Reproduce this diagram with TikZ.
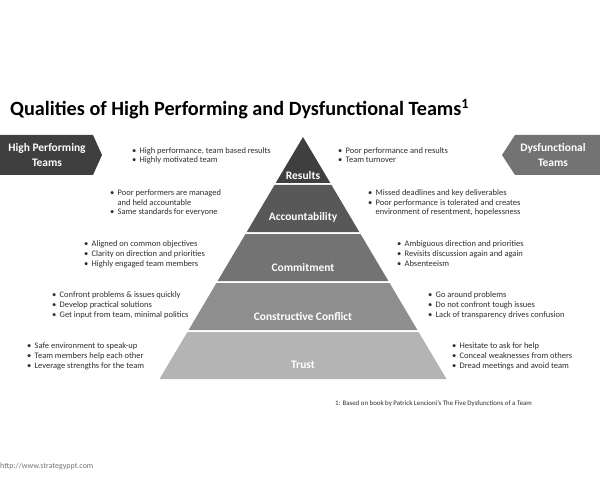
\documentclass[tikz,border=0pt]{standalone}
\usepackage{fontspec}
\setmainfont{Carlito}
\usepackage{xcolor}
\usetikzlibrary{positioning}

\definecolor{lvlA}{HTML}{3F3F3F}
\definecolor{lvlB}{HTML}{585858}
\definecolor{lvlC}{HTML}{737373}
\definecolor{lvlD}{HTML}{8E8E8E}
\definecolor{lvlE}{HTML}{B4B4B4}
\definecolor{txt}{HTML}{2E2E2E}

\newcommand{\bul}{\makebox[7.5pt][l]{•}}
\newcommand{\cont}{\hspace*{7.5pt}}

\begin{document}
\begin{tikzpicture}[x=1bp, y=-1bp,
  lvl/.style={text=white, font=\fontsize{11.5}{13}\selectfont\bfseries, anchor=base, inner sep=0pt},
  tag/.style={text=white, font=\fontsize{11.5}{15}\selectfont\bfseries, align=center, inner sep=0pt},
  pts/.style={text=txt, font=\fontsize{8.5}{10}\selectfont, align=left, anchor=base west, inner sep=0pt}]
  \useasboundingbox (0,0) rectangle (600,480);
  % title
  \node[anchor=base west, inner sep=0pt, font=\fontsize{20.3}{24}\selectfont\bfseries] (title) at (10,116)
    {Qualities of High Performing and Dysfunctional Teams\textsuperscript{1}};
  % side tags
  \fill[lvlA] (0,135) -- (93,135) -- (102,155) -- (93,175) -- (0,175) -- cycle;
  \node[tag] (hp) at (47,155) {High Performing\\Teams};
  \fill[lvlC] (600,135) -- (515,135) -- (502,155) -- (515,175) -- (600,175) -- cycle;
  \node[tag] (dy) at (553,155) {Dysfunctional\\Teams};
  % pyramid
  \fill[lvlA] (303,137) -- (330.3,183) -- (275.7,183) -- cycle;
  \fill[lvlB] (274.5,185) -- (331.5,185) -- (359.3,232) -- (246.7,232) -- cycle;
  \fill[lvlC] (245.5,234) -- (360.5,234) -- (388.4,281) -- (217.6,281) -- cycle;
  \fill[lvlD] (216.4,283) -- (389.6,283) -- (417.4,330) -- (188.6,330) -- cycle;
  \fill[lvlE] (187.4,332) -- (418.6,332) -- (446.5,379) -- (159.5,379) -- cycle;
  \node[lvl] (res) at (303,180) {Results};
  \node[lvl] (acc) at (303,221) {Accountability};
  \node[lvl] (com) at (303,271) {Commitment};
  \node[lvl] (con) at (303,320) {Constructive Conflict};
  \node[lvl] (tru) at (303,368) {Trust};
  % high performing side (anchored at last line)
  \node[pts] (hpres) at (132,163) {\bul High performance, team based results\\\bul Highly motivated team};
  \node[pts] (hpacc) at (110,215) {\bul Poor performers are managed\\\cont and held accountable\\\bul Same standards for everyone};
  \node[pts] (hpcom) at (84,266) {\bul Aligned on common objectives\\\bul Clarity on direction and priorities\\\bul Highly engaged team members};
  \node[pts] (hpcon) at (52,317) {\bul Confront problems \& issues quickly\\\bul Develop practical solutions\\\bul Get input from team, minimal politics};
  \node[pts] (hptru) at (27,368) {\bul Safe environment to speak-up\\\bul Team members help each other\\\bul Leverage strengths for the team};
  % dysfunctional side
  \node[pts] (dyres) at (338,163) {\bul Poor performance and results\\\bul Team turnover};
  \node[pts] (dyacc) at (368,215) {\bul Missed deadlines and key deliverables\\\bul Poor performance is tolerated and creates\\\cont environment of resentment, hopelessness};
  \node[pts] (dycom) at (397,266) {\bul Ambiguous direction and priorities\\\bul Revisits discussion again and again\\\bul Absenteeism};
  \node[pts] (dycon) at (428,317) {\bul Go around problems\\\bul Do not confront tough issues\\\bul Lack of transparency drives confusion};
  \node[pts] (dytru) at (452,368) {\bul Hesitate to ask for help\\\bul Conceal weaknesses from others\\\bul Dread meetings and avoid team};
  % notes
  \node[anchor=base west, inner sep=0pt, text=txt, font=\fontsize{6.9}{8}\selectfont] (note) at (335,405)
    {1: Based on book by Patrick Lencioni's The Five Dysfunctions of a Team};
  \node[anchor=base west, inner sep=0pt, text=black!55, font=\fontsize{8}{9}\selectfont] (url) at (0,468)
    {http://www.strategyppt.com};
\end{tikzpicture}
\end{document}
